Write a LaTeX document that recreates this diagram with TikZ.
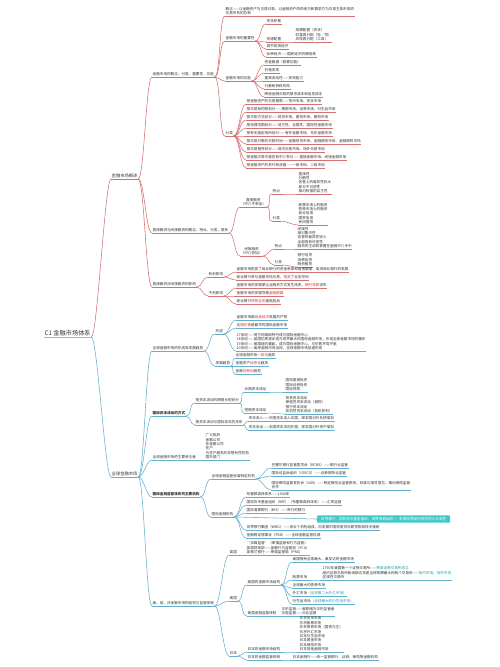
\documentclass[tikz,border=0pt]{standalone}
\usepackage{fontspec}
\setmainfont{Noto Sans CJK SC}
\definecolor{redl}{RGB}{212,112,112}
\definecolor{bluel}{RGB}{98,176,206}
\definecolor{hl}{RGB}{226,40,40}
\definecolor{tl}{RGB}{30,160,160}
\definecolor{boxc}{RGB}{66,200,200}
\definecolor{txt}{RGB}{50,50,50}
\newcommand{\redw}[1]{\textcolor{hl}{#1}}
\newcommand{\tealw}[1]{\textcolor{tl}{#1}}

\begin{document}
\begin{tikzpicture}[x=1pt,y=-1pt,font=\fontsize{3.6}{4.4}\selectfont,text=txt,
    tp/.style={anchor=south west,inner xsep=0.5pt,inner ysep=0.8pt,align=left,
      append after command={(\tikzlastnode.south west) edge[draw=#1,line width=0.45pt] (\tikzlastnode.south east)}},
    rt/.style={tp=redl},
    bt/.style={tp=bluel},
    bd/.style={font=\fontsize{3.6}{4.4}\selectfont\bfseries},
    rl/.style={draw=redl,line width=0.55pt,out=0,in=180,max distance=6pt},
    bl/.style={draw=bluel,line width=0.55pt,out=0,in=180,max distance=6pt},
    callout/.style={anchor=west,fill=boxc,text=white,rounded corners=0.8pt,inner xsep=4pt,inner ysep=2pt}]
  \useasboundingbox[fill=white] (0,0) rectangle (500,667);

  % root and the two main branches
  \node[tp=gray!60,font=\fontsize{6.2}{7}\selectfont] (root) at (44,337) {C1 金融市场体系};
  \node[rt,font=\fontsize{4.3}{5}\selectfont] (ov) at (111,179) {金融市场概述};
  \node[bt,font=\fontsize{4.3}{5}\selectfont] (gm) at (111,477) {全球金融市场};
  \draw[rl] (root.south east) to (ov.south west);
  \draw[bl] (root.south east) to (gm.south west);

  % ---- overview ----
  \node[rt] (ov1) at (152,77) {金融市场的概念、分类、重要性、功能};
  \node[rt] (ov2) at (152,233) {直接融资与间接融资的概念、特点、分类、联系};
  \node[rt] (ov3) at (152,287) {直接融资对间接融资的影响};
  \foreach \n in {ov1,ov2,ov3} \draw[rl] (ov.south east) to (\n.south west);

  \node[rt] (cpt) at (225,16) {概念——以金融资产为交易对象，以金融资产的供给方和需求方为交易主体形成的\\交易关系的总和};
  \node[rt] (imp) at (225,41) {金融市场的重要性};
  \node[rt] (fun) at (225,81) {金融市场的功能};
  \node[rt] (cls) at (225,136) {分类};
  \foreach \n in {cpt,imp,fun,cls} \draw[rl] (ov1.south east) to (\n.south west);

  \node[rt] (im1) at (266,24) {资本积累};
  \node[rt] (im2) at (266,42) {资源配置};
  \node[rt] (im3) at (266,49) {调节宏观经济};
  \node[rt] (im4) at (266,57) {反映经济——国民经济的晴雨表};
  \foreach \n in {im1,im2,im3,im4} \draw[rl] (imp.south east) to (\n.south west);
  \node[rt] (im5) at (295,42) {规模配置（资本）\\财富再分配（存／贷）\\风险再分配（工具）};
  \draw[rl] (im2.south east) to (im5.south west);

  \foreach \i/\t in {1/资金融通（首要功能）,2/价格发现,3/提高流动性——变现能力,4/分散和转移风险,5/降低金融交易的搜寻成本和信息成本}{
    \node[rt] (fn\i) at (264,{57+8*\i}) {\t};
    \draw[rl] (fun.south east) to (fn\i.south west);
  }

  \foreach \i/\t in {1/按金融资产的交易期限——货币市场、资本市场,
      2/按交易标的物划分——票据市场、证券市场、衍生品市场,
      3/按交割方式划分——现货市场、期货市场、期权市场,
      4/按地理范围划分——地方性、全国性、国际性金融市场,
      5/按有无固定场所划分——有形金融市场、无形金融市场,
      6/按交易对象的交割时间——金融现货市场、金融期货市场、金融期权市场,
      7/按交易程序划分——场内交易市场、场外交易市场,
      8/按金融交易中是否有中介参与——直接金融市场、间接金融市场,
      9/按金融资产的发行和流通——一级市场、二级市场}{
    \node[rt] (cl\i) at (246,{96+8*\i}) {\t};
    \draw[rl] (cls.south east) to (cl\i.south west);
  }

  \node[rt,align=center] (dir) at (240,207) {直接融资\\（中介不参加）};
  \node[rt,align=center] (ind) at (240,256) {间接融资\\（中介参加）};
  \draw[rl] (ov2.south east) to (dir.south west);
  \draw[rl] (ov2.south east) to (ind.south west);

  \node[rt] (dfe) at (272,194) {特点};
  \node[rt] (dcl) at (272,221) {分类};
  \node[rt] (dfe1) at (298,194) {直接性\\分散性\\信誉上的差异性较大\\部分不可逆性\\相对较强的自主性};
  \node[rt] (dcl1) at (298,225) {股票市场上的融资\\债券市场上的融资\\商业信用\\国家信用\\民间借贷};
  \draw[rl] (dir.south east) to (dfe.south west);
  \draw[rl] (dir.south east) to (dcl.south west);
  \draw[rl] (dfe.south east) to (dfe1.south west);
  \draw[rl] (dcl.south east) to (dcl1.south west);

  \node[rt] (ife) at (274,249) {特点};
  \node[rt] (icl) at (274,265) {分类};
  \node[rt] (ife1) at (297,249) {间接性\\相对集中性\\信誉的差异性较小\\全部具有可逆性\\融资的主动权掌握在金融中介手中};
  \node[rt] (icl1) at (297,267) {银行信贷\\消费信贷\\融资租赁};
  \draw[rl] (ind.south east) to (ife.south west);
  \draw[rl] (ind.south east) to (icl.south west);
  \draw[rl] (ife.south east) to (ife1.south west);
  \draw[rl] (icl.south east) to (icl1.south west);

  \node[rt] (pos) at (208,277) {有利影响};
  \node[rt] (neg) at (208,296) {不利影响};
  \draw[rl] (ov3.south east) to (pos.south west);
  \draw[rl] (ov3.south east) to (neg.south west);
  \node[rt] (pos1) at (236,272) {金融市场拓宽了商业银行的资金来源和运用渠道，促进商业银行的发展};
  \node[rt] (pos2) at (236,280) {商业银行参与金融市场交易，\redw{拓宽}了业务空间};
  \node[rt] (neg1) at (236,288) {金融市场的发展使企业融资方式发生改变，\redw{银行存款}流失};
  \node[rt] (neg2) at (236,296) {金融市场的发展导致\redw{金融脱媒}};
  \node[rt] (neg3) at (236,304) {商业银行\redw{贷款业务}面临挑战};
  \foreach \n in {pos1,pos2} \draw[rl] (pos.south east) to (\n.south west);
  \foreach \n in {neg1,neg2,neg3} \draw[rl] (neg.south east) to (\n.south west);

  % ---- global markets ----
  \node[bt] (gm1) at (152,351) {全球金融市场的形成及发展趋势};
  \node[bt,bd] (gm2) at (152,416) {国际资本流动的方式};
  \node[bt] (gm3) at (152,460) {全球金融市场的主要参与者};
  \node[bt,bd] (gm4) at (152,497) {国际金融监管体系的主要机构};
  \node[bt] (gm5) at (152,606) {美、英、日金融市场的结构与监管体制};
  \foreach \n in {gm1,gm2,gm3,gm4,gm5} \draw[bl] (gm.south east) to (\n.south west);

  \node[bt] (frm) at (215,334) {形成};
  \node[bt] (trd) at (215,366) {发展趋势};
  \draw[bl] (gm1.south east) to (frm.south west);
  \draw[bl] (gm1.south east) to (trd.south west);
  \node[bt] (fr1) at (236,320) {金融市场是\redw{商品经济}发展的产物};
  \node[bt] (fr2) at (236,328) {\redw{英国伦敦}是最早的国际金融市场};
  \node[bt] (fr3) at (236,351) {17世纪——荷兰阿姆斯特丹成为国际金融中心\\18世纪——英国伦敦逐步成为世界最大的国际金融市场，形成全球金融市场的雏形\\19世纪——美国纽约崛起，成为国际金融中心，与伦敦并驾齐驱\\20世纪——离岸金融市场出现，全球金融市场加速形成};
  \foreach \n in {fr1,fr2,fr3} \draw[bl] (frm.south east) to (\n.south west);
  \node[bt] (tr1) at (235,358) {全球金融市场\redw{一体化}趋势};
  \node[bt] (tr2) at (235,366) {金融资产\redw{证券化}趋势};
  \node[bt] (tr3) at (235,374) {金融\redw{创新化}趋势};
  \foreach \n in {tr1,tr2,tr3} \draw[bl] (trd.south east) to (\n.south west);

  \node[bt] (flw) at (195,403) {按资本流动的期限长短划分};
  \node[bt] (bop) at (195,425) {按资本流动与国际收支的关系};
  \draw[bl] (gm2.south east) to (flw.south west);
  \draw[bl] (gm2.south east) to (bop.south west);
  \node[bt] (lng) at (244,392) {长期资本流动};
  \node[bt] (sht) at (244,413) {短期资本流动};
  \draw[bl] (flw.south east) to (lng.south west);
  \draw[bl] (flw.south east) to (sht.south west);
  \node[bt] (lng1) at (285,392) {国际直接投资\\国际证券投资\\国际贷款};
  \node[bt] (sht1) at (285,414) {贸易资本流动\\保值性资本流动（避险）\\银行资本流动\\投机性资本流动（投机获利）};
  \draw[bl] (lng.south east) to (lng1.south west);
  \draw[bl] (sht.south east) to (sht1.south west);
  \node[bt] (bop1) at (248,421) {资本流入——外国资本流入本国，即本国对外负债增加};
  \node[bt] (bop2) at (248,430) {资本流出——本国资本流向外国，即本国对外资产增加};
  \draw[bl] (bop.south east) to (bop1.south west);
  \draw[bl] (bop.south east) to (bop2.south west);

  \node[bt] (pty) at (205,460) {广义政府\\金融公司\\非金融公司\\住户\\为住户服务的非营利性机构\\国外部门};
  \draw[bl] (gm3.south east) to (pty.south west);

  \node[bt] (std) at (211,479) {全球金融监管标准制定机构};
  \node[bt] (ifi) at (211,517) {国际金融机构};
  \draw[bl] (gm4.south east) to (std.south west);
  \draw[bl] (gm4.south east) to (ifi.south west);
  \node[bt] (sd1) at (271,468) {巴塞尔银行监管委员会（BCBS）——银行业监管};
  \node[bt] (sd2) at (271,476) {国际证监会组织（IOSCO）——证券期货业监管};
  \node[bt] (sd3) at (271,490) {国际保险监督官协会（IAIS）——制定保险业监管原则、标准与指导意见，推动保险监管\\合作};
  \foreach \n in {sd1,sd2,sd3} \draw[bl] (std.south east) to (\n.south west);
  \node[bt] (if1) at (246,497) {布雷顿森林体系——1944年};
  \node[bt] (if2) at (246,505) {国际货币基金组织（IMF）（布雷顿森林体系）——汇率监督};
  \node[bt] (if3) at (246,513) {国际清算银行（BIS）——央行的银行};
  \node[bt] (if4) at (246,530) {世界银行集团（WBG）——由五个机构组成，向发展中国家提供长期贷款和技术援助};
  \node[bt] (if5) at (246,538) {金融稳定理事会（FSB）——全球金融监管协调};
  \foreach \n in {if1,if2,if3,if4,if5} \draw[bl] (ifi.south east) to (\n.south west);
  \node[callout] (tri) at (317,519) {世界银行、国际货币基金组织、世界贸易组织——支撑世界经济秩序的三大支柱};
  \draw[bl] (ifi.south east) to (tri.west);

  \node[bt] (uk) at (229,555) {英国};
  \node[bt] (us) at (229,601) {美国};
  \node[bt] (jp) at (229,656) {日本};
  \foreach \n in {uk,us,jp} \draw[bl] (gm5.south east) to (\n.south west);
  \node[bt] (uk1) at (246,555) {“双峰监管”（审慎监管和行为监管）\\英国财政部——金融行为监管局（FCA）\\英格兰银行——审慎监管局（PRA）};
  \draw[bl] (uk.south east) to (uk1.south west);

  \node[bt] (uss) at (247,585) {美国的金融市场结构};
  \node[bt] (usr) at (247,616) {美国金融监管体制};
  \draw[bl] (us.south east) to (uss.south west);
  \draw[bl] (us.south east) to (usr.south west);
  \node[bt] (us1) at (292,562) {美国拥有全球最大、最发达的金融市场};
  \node[bt] (us2) at (292,580) {股票市场};
  \node[bt] (us3) at (292,588) {全球最大的债券市场};
  \node[bt] (us4) at (292,596) {外汇市场\tealw{（全球第二大外汇市场）}};
  \node[bt] (us5) at (292,604) {衍生品市场\tealw{（全球最大的衍生品市场）}};
  \foreach \n in {us1,us2,us3,us4,us5} \draw[bl] (uss.south east) to (\n.south west);
  \node[bt] (us6) at (322,580) {1790年美国第一个证券交易所——\tealw{费城证券交易所成立}\\纽约证券交易所和纳斯达克是全球规模最大的两个交易所——\tealw{场内市场}，\tealw{场外市场}\\区域性交易所};
  \draw[bl] (us2.south east) to (us6.south west);
  \node[bt] (usr1) at (281,616) {伞形监管——美联储为伞形监管者\\功能监管——分业监管};
  \draw[bl] (usr.south east) to (usr1.south west);

  \node[bt] (jps) at (247,652) {日本的金融市场结构};
  \node[bt] (jpr) at (247,660) {日本的金融监管体制};
  \draw[bl] (jp.south east) to (jps.south west);
  \draw[bl] (jp.south east) to (jpr.south west);
  \node[bt] (jps1) at (299,652) {东京货币市场\\东京股票市场\\东京债券市场（国债为主）\\东京外汇市场\\日本衍生品市场\\日本黄金市场\\日本保险市场\\日本其他金融市场};
  \node[bt] (jpr1) at (292,660) {日本金融厅——统一监管银行、证券、保险等金融机构};
  \draw[bl] (jps.south east) to (jps1.south west);
  \draw[bl] (jpr.south east) to (jpr1.south west);
\end{tikzpicture}
\end{document}
